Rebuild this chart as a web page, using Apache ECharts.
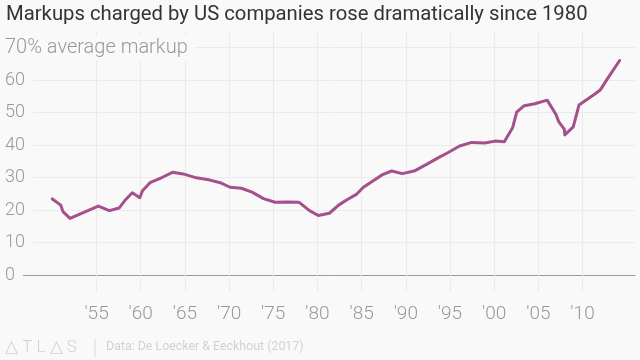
<!DOCTYPE html>
<html>
<head>
<meta charset="utf-8">
<script src="https://cdn.jsdelivr.net/npm/echarts@6/dist/echarts.min.js"></script>
<style>html,body{margin:0;padding:0;background:#f9f9f9;}#c{width:640px;height:360px;}</style>
</head>
<body>
<div id="c"></div>
<script>
const titleText = 'Markups charged by US companies rose dramatically since 1980';
const sourceText = 'Data: De Loecker & Eeckhout (2017)';
const tickYears = [1955, 1960, 1965, 1970, 1975, 1980, 1985, 1990, 1995, 2000, 2005, 2010];
const yTicks = [0, 10, 20, 30, 40, 50, 60, 70];
const years = [1950.0,1950.95,1951.2,1952.0,1955.2,1956.45,1957.55,1958.2,1959.05,1959.9,1960.2,1961.05,1962.4,1963.6,1964.8,1966.3,1967.85,1969.0,1970.1,1971.4,1972.6,1973.9,1975.2,1976.5,1977.9,1979.1,1980.1,1981.35,1982.4,1983.3,1984.45,1985.2,1986.15,1987.3,1988.4,1989.6,1991.05,1992.4,1993.7,1994.8,1996.1,1997.45,1998.95,2000.1,2001.15,2002.1,2002.55,2003.4,2004.6,2006.0,2007.0,2007.3,2007.95,2008.0,2008.95,2009.6,2011.4,2012.0,2012.85,2014.2];
const markup = [23.4,21.5,19.5,17.4,21.2,19.8,20.6,22.9,25.3,23.8,25.9,28.4,30.0,31.6,31.1,29.9,29.2,28.4,27.0,26.7,25.5,23.5,22.4,22.5,22.4,19.8,18.3,19.0,21.5,23.1,24.9,27.0,28.7,30.8,32.0,31.2,32.1,34.1,36.1,37.7,39.7,40.8,40.6,41.2,41.0,45.4,50.1,52.1,52.7,53.8,49.4,47.2,44.8,43.1,45.6,52.3,55.7,56.9,60.5,66.0];

const BG = '#f9f9f9';
const GRID = '#ebebeb';
const LABEL = '#999999';

const chart = echarts.init(document.getElementById('c'), null, {renderer: 'canvas'});
chart.setOption({
  backgroundColor: BG,
  animation: false,
  title: [
    {text: titleText, left: 6, top: 5, padding: 0,
     textStyle: {fontFamily: 'Roboto', fontSize: 20.3, fontWeight: 400, color: '#333333'}},
    {text: sourceText, left: 106, top: 341, padding: 0,
     textStyle: {fontFamily: 'Roboto', fontSize: 12.4, fontWeight: 400, color: '#d2d2d2'}},
    {text: '△ T L △ S', left: 5, top: 339, padding: 0,
     textStyle: {fontFamily: 'Roboto', fontSize: 17, fontWeight: 300, color: '#d2d2d2'}}
  ],
  graphic: [
    {type: 'line', shape: {x1: 95, y1: 339, x2: 95, y2: 357}, style: {stroke: '#d8d8d8', lineWidth: 1}}
  ],
  grid: {left: 22.4, right: 5, top: 32, bottom: 85, containLabel: false},
  xAxis: {
    type: 'value', min: 1946.61, max: 2015.94,
    axisLine: {show: true, lineStyle: {color: '#999999', width: 1}},
    axisTick: {show: true, customValues: tickYears, length: 17, lineStyle: {color: GRID}},
    axisLabel: {customValues: tickYears, margin: 30, color: LABEL, fontFamily: 'Roboto', fontSize: 19, fontWeight: 300,
      formatter: v => "'" + String(Math.round(v)).slice(2)},
    splitLine: {show: true, lineStyle: {color: GRID, width: 1}}
  },
  yAxis: {
    type: 'value', min: 0, max: 74.77, interval: 10,
    axisLine: {show: false}, axisTick: {show: false},
    axisLabel: {
      align: 'left', margin: 17.4, color: LABEL, fontFamily: 'Roboto', fontSize: 18, fontWeight: 300,
      showMaxLabel: false,
      backgroundColor: BG, padding: [2, 8, 2, 0],
      rich: {u: {fontFamily: 'Roboto', fontSize: 20, fontWeight: 300, color: LABEL}},
      formatter: v => (yTicks.indexOf(v) < 0 ? '' : (v === 70 ? '{u|70% average markup}' : String(v)))
    },
    splitLine: {show: true, showMaxLine: false, lineStyle: {color: GRID, width: 1}}
  },
  series: [{
    type: 'line', data: years.map((y, i) => [y, markup[i]]),
    symbol: 'none', smooth: false,
    lineStyle: {color: '#a5508b', width: 3, join: 'round', cap: 'round'}
  }]
});
</script>
</body>
</html>
